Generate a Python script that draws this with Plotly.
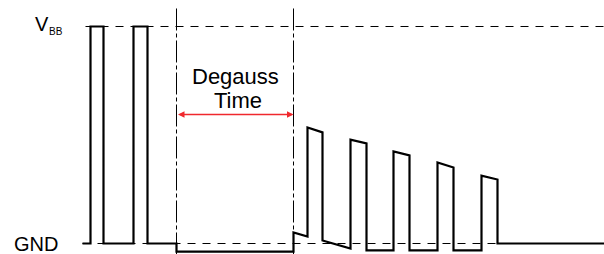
import plotly.graph_objects as go

# Waveform: time (arbitrary units) and normalised voltage (GND = 0, VBB = 1)
t = [82, 90, 90, 103, 103, 133, 133, 147, 147, 176, 176, 293, 293, 307, 307, 322, 322, 350,
     350, 366, 366, 393, 393, 409, 409, 437, 437, 453, 453, 481, 481, 497, 497, 604]
v = [0.0, 0.0, 1.0, 1.0, 0.0, 0.0, 1.0, 1.0, 0.0, 0.0, -0.037, -0.037, 0.051, 0.032, 0.535, 0.512,
     0.014, -0.023, 0.479, 0.461, -0.032, -0.032, 0.424, 0.406, -0.032, -0.032, 0.373, 0.350,
     -0.032, -0.032, 0.313, 0.295, 0.0, 0.0]

levels = [1.0, 0.0]            # VBB, GND reference levels
level_labels = ["V", "GND"]
level_start = [85, 82]
degauss_start, degauss_end = 176, 293
degauss_label = ["Degauss", "Time"]

Y0, Y1 = -10.5 / 217, 243.5 / 217
X0, X1 = -0.5, 603.5

fig = go.Figure()

# dashed reference levels
for lv, xs in zip(levels, level_start):
    fig.add_trace(go.Scatter(x=[xs, X1 + 1], y=[lv, lv], mode="lines",
                             line=dict(color="black", width=1, dash="8px,7px"),
                             hoverinfo="skip", showlegend=False))

# dash-dot degauss boundaries
for xb in (degauss_start, degauss_end):
    fig.add_trace(go.Scatter(x=[xb, xb], y=[1.083, Y0 - 0.05], mode="lines",
                             line=dict(color="black", width=1, dash="22px,3px,4px,3px"),
                             hoverinfo="skip", showlegend=False))

# waveform
fig.add_trace(go.Scatter(x=t, y=v, mode="lines",
                         line=dict(color="black", width=2.2, shape="linear"),
                         hoverinfo="skip", showlegend=False))

font = "Liberation Sans, Arial, sans-serif"
v_arrow = (243 - 114) / 217

annotations = [
    dict(x=degauss_end, y=v_arrow, ax=degauss_start, ay=v_arrow, xref="x", yref="y",
         axref="x", ayref="y", showarrow=True, arrowhead=2, arrowside="end+start",
         arrowsize=1, arrowwidth=1.3, arrowcolor="#f0282d", text=""),
    dict(x=32, y=(243 - 23) / 217, xref="x", yref="y", text=level_labels[0], showarrow=False,
         xanchor="left", yanchor="middle", font=dict(family=font, size=20, color="black")),
    dict(x=46, y=(243 - 31) / 217, xref="x", yref="y", text="BB", showarrow=False,
         xanchor="left", yanchor="middle", font=dict(family=font, size=10, color="black")),
    dict(x=11, y=(243 - 243) / 217, xref="x", yref="y", text=level_labels[1], showarrow=False,
         xanchor="left", yanchor="middle", font=dict(family=font, size=20, color="black")),
    dict(x=235, y=(243 - 76) / 217, xref="x", yref="y", text=degauss_label[0], showarrow=False,
         xanchor="center", yanchor="middle", font=dict(family=font, size=22, color="black")),
    dict(x=237, y=(243 - 100) / 217, xref="x", yref="y", text=degauss_label[1], showarrow=False,
         xanchor="center", yanchor="middle", font=dict(family=font, size=22, color="black")),
]

fig.update_layout(
    width=604, height=254, margin=dict(l=0, r=0, t=0, b=0),
    paper_bgcolor="white", plot_bgcolor="white",
    xaxis=dict(range=[X0, X1], visible=False, fixedrange=True),
    yaxis=dict(range=[Y0, Y1], visible=False, fixedrange=True),
    annotations=annotations, showlegend=False,
)

fig.write_html("out.html", config={"displayModeBar": False, "responsive": False},
               post_script="document.body.style.margin='0';document.body.style.overflow='hidden';")
